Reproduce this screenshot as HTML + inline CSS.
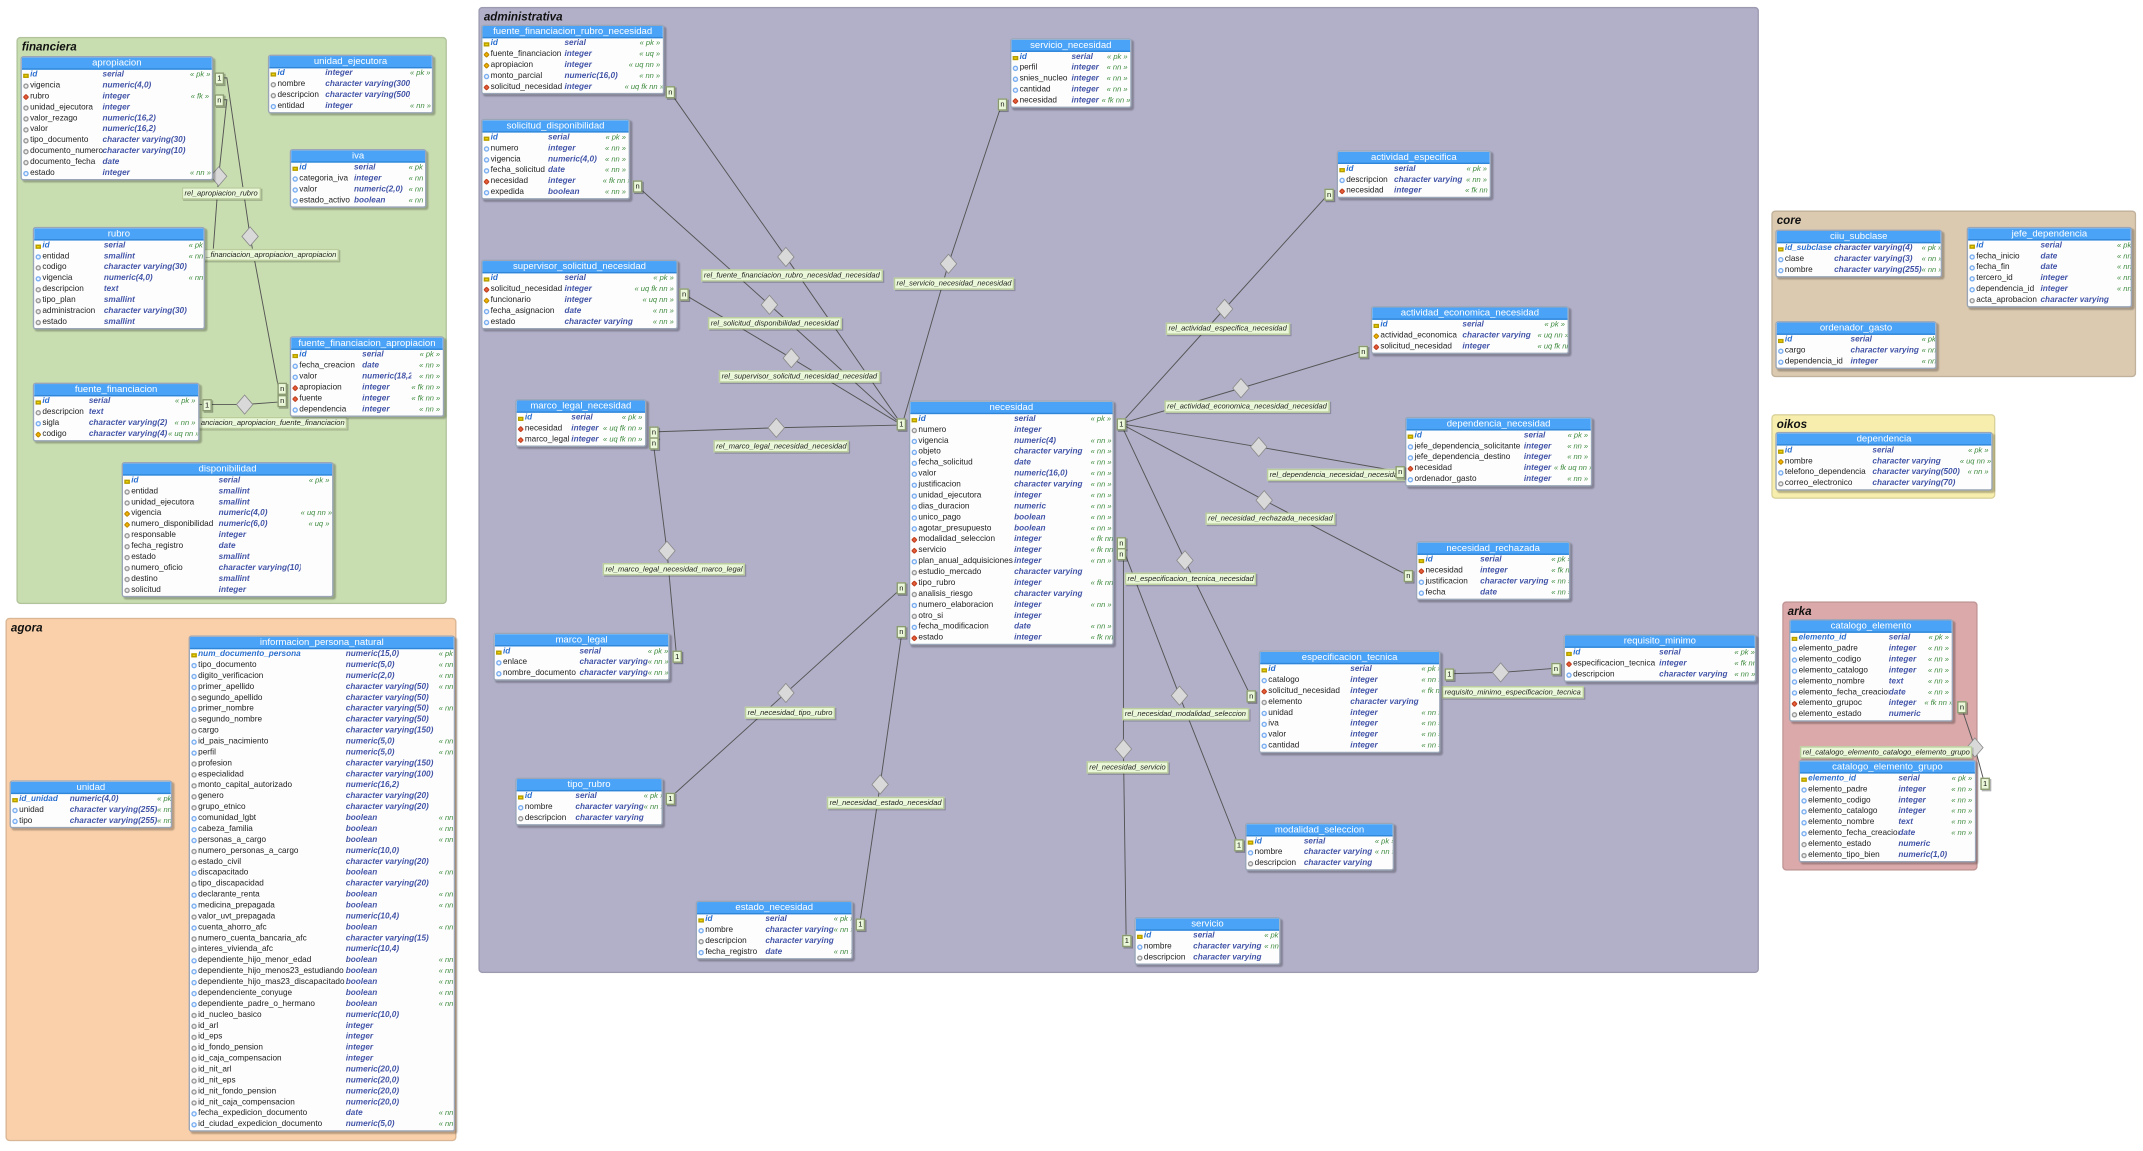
<!DOCTYPE html>
<html><head><meta charset="utf-8"><style>
*{margin:0;padding:0;box-sizing:border-box}
html,body{width:2143px;height:1151px;overflow:hidden;background:#fff}
#w{position:absolute;left:0;top:0;width:1568px;height:842px;transform:scale(1.36671);transform-origin:0 0;font-family:"Liberation Sans",sans-serif}
.pn{position:absolute;border:1px solid rgba(0,0,0,.12);border-radius:3px}
.pn>p{position:absolute;left:3px;top:1px;font-size:8.5px;font-style:italic;font-weight:bold;color:#111}
.t{position:absolute;background:#fdfdfd;border:1px solid #9aa6b8;border-radius:2px;box-shadow:1.5px 1.5px 1px rgba(0,0,0,.25);font-size:6px;--a:40px;--b:55px;overflow:hidden}
.t .h{height:9px;background:#4aa3f7;color:#fff;text-align:center;font-size:7px;line-height:9px;border-bottom:1px solid #2f86d8}
.r{display:flex;height:8px;line-height:8px;white-space:nowrap;padding:0 2px 0 1px}
.r i{flex:none;width:4px;height:4px;border-radius:50%;margin:2px 1px 0 0;border:.6px solid #999;background:#eee}
.r i.n{border-color:#7aaef0;background:#eef5ff}
.r i.p{border-radius:0;background:#f2d400;border-color:#b39b00;height:3px;margin-top:2.5px}
.r i.f{background:#e8603c;border-color:#c04020;border-radius:1px;transform:rotate(45deg) scale(.85)}
.r i.q{background:#f2b600;border-color:#c08a00;transform:rotate(45deg) scale(.85);border-radius:1px}
.r b{font-weight:normal;width:var(--a);overflow:hidden;color:#222;flex:none}
.r u{text-decoration:none;font-weight:bold;font-style:italic;color:#4254a8;width:var(--b);overflow:hidden;flex:none}
.r s{text-decoration:none;flex:1;text-align:right;color:#3d8a3d;font-style:italic;font-size:5.5px}
.r.k b{color:#2a6fd0;font-style:italic;font-weight:bold}
svg{position:absolute;left:0;top:0}
.lb{position:absolute;background:#eaf7d8;border:1px solid #b9cc9c;box-shadow:1px 1px 0 rgba(0,0,0,.2);font-size:5.5px;font-style:italic;color:#222;padding:0 1px;height:9px;line-height:8px;white-space:nowrap}
.c{position:absolute;background:#eaf7d8;border:1px solid #8a9a70;font-size:5.5px;width:7px;height:9px;line-height:8px;text-align:center;color:#111;box-shadow:1px 1px 0 rgba(0,0,0,.3)}
</style></head><body><div id="w">

<div class="pn" style="left:12px;top:27px;width:315px;height:415px;background:#c9deb0"><p>financiera</p></div>
<div class="pn" style="left:4px;top:452px;width:330px;height:383px;background:#f9d0a9"><p>agora</p></div>
<div class="pn" style="left:350px;top:5px;width:937px;height:707px;background:#b2b0c9"><p>administrativa</p></div>
<div class="pn" style="left:1296px;top:154px;width:267px;height:122px;background:#dccab0"><p>core</p></div>
<div class="pn" style="left:1296px;top:303px;width:164px;height:62px;background:#f7eeae"><p>oikos</p></div>
<div class="pn" style="left:1304px;top:440px;width:143px;height:197px;background:#dba9a9"><p>arka</p></div>

<svg width="1568" height="842" viewBox="0 0 1568 842">
<g stroke="#555" stroke-width=".7" fill="none">
<polyline points="160,57 166,57 183,173 204,285 210,285"/>
<polyline points="160,73 166,73 160,129 156,183 150,183"/>
<polyline points="146,296 152,296 179,296 206,294 210,294"/>
<polyline points="490,67 575,188 660,311"/>
<polyline points="466,136 563,223 660,311"/>
<polyline points="500,215 579,262 660,311"/>
<polyline points="478,316 568,313 660,311"/>
<polyline points="733,76 694,193 660,311"/>
<polyline points="478,324 488,403 495,480"/>
<polyline points="660,430 575,507 490,584"/>
<polyline points="660,462 644,574 629,676"/>
<polyline points="820,310 896,226 972,142"/>
<polyline points="820,310 908,284 997,257"/>
<polyline points="820,310 921,327 1024,345"/>
<polyline points="820,310 925,366 1030,421"/>
<polyline points="820,310 867,410 915,509"/>
<polyline points="820,397 863,509 906,618"/>
<polyline points="820,405 822,405 822,548 824,688"/>
<polyline points="1060,493 1098,492 1138,489"/>
<polyline points="1435,517 1445,547 1452,573"/>
</g>
<g fill="#d9d9d9" stroke="#8a8a8a" stroke-width=".6">
<polygon points="183,166 189,173 183,180 177,173"/>
<polygon points="160,122 166,129 160,136 154,129"/>
<polygon points="179,289 185,296 179,303 173,296"/>
<polygon points="575,181 581,188 575,195 569,188"/>
<polygon points="563,216 569,223 563,230 557,223"/>
<polygon points="579,255 585,262 579,269 573,262"/>
<polygon points="568,306 574,313 568,320 562,313"/>
<polygon points="694,186 700,193 694,200 688,193"/>
<polygon points="488,396 494,403 488,410 482,403"/>
<polygon points="575,500 581,507 575,514 569,507"/>
<polygon points="644,567 650,574 644,581 638,574"/>
<polygon points="896,219 902,226 896,233 890,226"/>
<polygon points="908,277 914,284 908,291 902,284"/>
<polygon points="921,320 927,327 921,334 915,327"/>
<polygon points="925,359 931,366 925,373 919,366"/>
<polygon points="867,403 873,410 867,417 861,410"/>
<polygon points="863,502 869,509 863,516 857,509"/>
<polygon points="822,541 828,548 822,555 816,548"/>
<polygon points="1098,485 1104,492 1098,499 1092,492"/>
<polygon points="1445,540 1451,547 1445,554 1439,547"/>
</g>
</svg>

<div class="lb" style="left:133px;top:137px">rel_apropiacion_rubro</div>
<div class="lb" style="left:149px;top:182px">_financiacion_apropiacion_apropiacion</div>
<div class="lb" style="left:145px;top:305px">anciacion_apropiacion_fuente_financiacion</div>
<div class="lb" style="left:513px;top:197px">rel_fuente_financiacion_rubro_necesidad_necesidad</div>
<div class="lb" style="left:518px;top:232px">rel_solicitud_disponibilidad_necesidad</div>
<div class="lb" style="left:526px;top:271px">rel_supervisor_solicitud_necesidad_necesidad</div>
<div class="lb" style="left:522px;top:322px">rel_marco_legal_necesidad_necesidad</div>
<div class="lb" style="left:654px;top:203px">rel_servicio_necesidad_necesidad</div>
<div class="lb" style="left:441px;top:412px">rel_marco_legal_necesidad_marco_legal</div>
<div class="lb" style="left:545px;top:517px">rel_necesidad_tipo_rubro</div>
<div class="lb" style="left:605px;top:583px">rel_necesidad_estado_necesidad</div>
<div class="lb" style="left:853px;top:236px">rel_actividad_especifica_necesidad</div>
<div class="lb" style="left:852px;top:293px">rel_actividad_economica_necesidad_necesidad</div>
<div class="lb" style="left:927px;top:343px">rel_dependencia_necesidad_necesidad</div>
<div class="lb" style="left:882px;top:375px">rel_necesidad_rechazada_necesidad</div>
<div class="lb" style="left:823px;top:419px">rel_especificacion_tecnica_necesidad</div>
<div class="lb" style="left:821px;top:518px">rel_necesidad_modalidad_seleccion</div>
<div class="lb" style="left:795px;top:557px">rel_necesidad_servicio</div>
<div class="lb" style="left:1055px;top:502px">requisito_minimo_especificacion_tecnica</div>
<div class="lb" style="left:1317px;top:546px">rel_catalogo_elemento_catalogo_elemento_grupo</div>

<div class="t" style="left:15px;top:41px;width:141px;--a:53px;--b:64px"><div class="h">apropiacion</div>
<div class="r k"><i class="p"></i><b>id</b><u>serial</u><s>« pk »</s></div>
<div class="r"><i></i><b>vigencia</b><u>numeric(4,0)</u><s></s></div>
<div class="r"><i class="f"></i><b>rubro</b><u>integer</u><s>« fk »</s></div>
<div class="r"><i></i><b>unidad_ejecutora</b><u>integer</u><s></s></div>
<div class="r"><i></i><b>valor_rezago</b><u>numeric(16,2)</u><s></s></div>
<div class="r"><i></i><b>valor</b><u>numeric(16,2)</u><s></s></div>
<div class="r"><i></i><b>tipo_documento</b><u>character varying(30)</u><s></s></div>
<div class="r"><i></i><b>documento_numero</b><u>character varying(10)</u><s></s></div>
<div class="r"><i></i><b>documento_fecha</b><u>date</u><s></s></div>
<div class="r"><i class="n"></i><b>estado</b><u>integer</u><s>« nn »</s></div></div>

<div class="t" style="left:196px;top:40px;width:121px;--a:35px;--b:62px"><div class="h">unidad_ejecutora</div>
<div class="r k"><i class="p"></i><b>id</b><u>integer</u><s>« pk »</s></div>
<div class="r"><i></i><b>nombre</b><u>character varying(300)</u><s></s></div>
<div class="r"><i></i><b>descripcion</b><u>character varying(500)</u><s></s></div>
<div class="r"><i class="n"></i><b>entidad</b><u>integer</u><s>« nn »</s></div></div>

<div class="t" style="left:212px;top:109px;width:100px;--a:40px;--b:40px"><div class="h">iva</div>
<div class="r k"><i class="p"></i><b>id</b><u>serial</u><s>« pk »</s></div>
<div class="r"><i class="n"></i><b>categoria_iva</b><u>integer</u><s>« nn »</s></div>
<div class="r"><i class="n"></i><b>valor</b><u>numeric(2,0)</u><s>« nn »</s></div>
<div class="r"><i class="n"></i><b>estado_activo</b><u>boolean</u><s>« nn »</s></div></div>

<div class="t" style="left:24px;top:166px;width:126px;--a:45px;--b:62px"><div class="h">rubro</div>
<div class="r k"><i class="p"></i><b>id</b><u>serial</u><s>« pk »</s></div>
<div class="r"><i class="n"></i><b>entidad</b><u>smallint</u><s>« nn »</s></div>
<div class="r"><i></i><b>codigo</b><u>character varying(30)</u><s></s></div>
<div class="r"><i class="n"></i><b>vigencia</b><u>numeric(4,0)</u><s>« nn »</s></div>
<div class="r"><i></i><b>descripcion</b><u>text</u><s></s></div>
<div class="r"><i></i><b>tipo_plan</b><u>smallint</u><s></s></div>
<div class="r"><i></i><b>administracion</b><u>character varying(30)</u><s></s></div>
<div class="r"><i></i><b>estado</b><u>smallint</u><s></s></div></div>

<div class="t" style="left:212px;top:246px;width:113px;--a:46px;--b:36px"><div class="h">fuente_financiacion_apropiacion</div>
<div class="r k"><i class="p"></i><b>id</b><u>serial</u><s>« pk »</s></div>
<div class="r"><i class="n"></i><b>fecha_creacion</b><u>date</u><s>« nn »</s></div>
<div class="r"><i class="n"></i><b>valor</b><u>numeric(18,2)</u><s>« nn »</s></div>
<div class="r"><i class="f"></i><b>apropiacion</b><u>integer</u><s>« fk nn »</s></div>
<div class="r"><i class="f"></i><b>fuente</b><u>integer</u><s>« fk nn »</s></div>
<div class="r"><i class="n"></i><b>dependencia</b><u>integer</u><s>« nn »</s></div></div>

<div class="t" style="left:24px;top:280px;width:122px;--a:34px;--b:58px"><div class="h">fuente_financiacion</div>
<div class="r k"><i class="p"></i><b>id</b><u>serial</u><s>« pk »</s></div>
<div class="r"><i></i><b>descripcion</b><u>text</u><s></s></div>
<div class="r"><i class="n"></i><b>sigla</b><u>character varying(2)</u><s>« nn »</s></div>
<div class="r"><i class="q"></i><b>codigo</b><u>character varying(4)</u><s>« uq nn »</s></div></div>

<div class="t" style="left:89px;top:338px;width:155px;--a:64px;--b:60px"><div class="h">disponibilidad</div>
<div class="r k"><i class="p"></i><b>id</b><u>serial</u><s>« pk »</s></div>
<div class="r"><i></i><b>entidad</b><u>smallint</u><s></s></div>
<div class="r"><i></i><b>unidad_ejecutora</b><u>smallint</u><s></s></div>
<div class="r"><i class="q"></i><b>vigencia</b><u>numeric(4,0)</u><s>« uq nn »</s></div>
<div class="r"><i class="q"></i><b>numero_disponibilidad</b><u>numeric(6,0)</u><s>« uq »</s></div>
<div class="r"><i></i><b>responsable</b><u>integer</u><s></s></div>
<div class="r"><i></i><b>fecha_registro</b><u>date</u><s></s></div>
<div class="r"><i></i><b>estado</b><u>smallint</u><s></s></div>
<div class="r"><i></i><b>numero_oficio</b><u>character varying(10)</u><s></s></div>
<div class="r"><i></i><b>destino</b><u>smallint</u><s></s></div>
<div class="r"><i></i><b>solicitud</b><u>integer</u><s></s></div></div>

<div class="t" style="left:7px;top:571px;width:119px;--a:37px;--b:64px"><div class="h">unidad</div>
<div class="r k"><i class="p"></i><b>id_unidad</b><u>numeric(4,0)</u><s>« pk »</s></div>
<div class="r"><i class="n"></i><b>unidad</b><u>character varying(255)</u><s>« nn »</s></div>
<div class="r"><i class="n"></i><b>tipo</b><u>character varying(255)</u><s>« nn »</s></div></div>

<div class="t" style="left:138px;top:465px;width:195px;--a:108px;--b:68px"><div class="h">informacion_persona_natural</div>
<div class="r k"><i class="p"></i><b>num_documento_persona</b><u>numeric(15,0)</u><s>« pk »</s></div>
<div class="r"><i class="n"></i><b>tipo_documento</b><u>numeric(5,0)</u><s>« nn »</s></div>
<div class="r"><i class="n"></i><b>digito_verificacion</b><u>numeric(2,0)</u><s>« nn »</s></div>
<div class="r"><i class="n"></i><b>primer_apellido</b><u>character varying(50)</u><s>« nn »</s></div>
<div class="r"><i></i><b>segundo_apellido</b><u>character varying(50)</u><s></s></div>
<div class="r"><i class="n"></i><b>primer_nombre</b><u>character varying(50)</u><s>« nn »</s></div>
<div class="r"><i></i><b>segundo_nombre</b><u>character varying(50)</u><s></s></div>
<div class="r"><i></i><b>cargo</b><u>character varying(150)</u><s></s></div>
<div class="r"><i class="n"></i><b>id_pais_nacimiento</b><u>numeric(5,0)</u><s>« nn »</s></div>
<div class="r"><i class="n"></i><b>perfil</b><u>numeric(5,0)</u><s>« nn »</s></div>
<div class="r"><i></i><b>profesion</b><u>character varying(150)</u><s></s></div>
<div class="r"><i></i><b>especialidad</b><u>character varying(100)</u><s></s></div>
<div class="r"><i></i><b>monto_capital_autorizado</b><u>numeric(16,2)</u><s></s></div>
<div class="r"><i></i><b>genero</b><u>character varying(20)</u><s></s></div>
<div class="r"><i></i><b>grupo_etnico</b><u>character varying(20)</u><s></s></div>
<div class="r"><i class="n"></i><b>comunidad_lgbt</b><u>boolean</u><s>« nn »</s></div>
<div class="r"><i class="n"></i><b>cabeza_familia</b><u>boolean</u><s>« nn »</s></div>
<div class="r"><i class="n"></i><b>personas_a_cargo</b><u>boolean</u><s>« nn »</s></div>
<div class="r"><i></i><b>numero_personas_a_cargo</b><u>numeric(10,0)</u><s></s></div>
<div class="r"><i></i><b>estado_civil</b><u>character varying(20)</u><s></s></div>
<div class="r"><i class="n"></i><b>discapacitado</b><u>boolean</u><s>« nn »</s></div>
<div class="r"><i></i><b>tipo_discapacidad</b><u>character varying(20)</u><s></s></div>
<div class="r"><i class="n"></i><b>declarante_renta</b><u>boolean</u><s>« nn »</s></div>
<div class="r"><i class="n"></i><b>medicina_prepagada</b><u>boolean</u><s>« nn »</s></div>
<div class="r"><i></i><b>valor_uvt_prepagada</b><u>numeric(10,4)</u><s></s></div>
<div class="r"><i class="n"></i><b>cuenta_ahorro_afc</b><u>boolean</u><s>« nn »</s></div>
<div class="r"><i></i><b>numero_cuenta_bancaria_afc</b><u>character varying(15)</u><s></s></div>
<div class="r"><i></i><b>interes_vivienda_afc</b><u>numeric(10,4)</u><s></s></div>
<div class="r"><i class="n"></i><b>dependiente_hijo_menor_edad</b><u>boolean</u><s>« nn »</s></div>
<div class="r"><i class="n"></i><b>dependiente_hijo_menos23_estudiando</b><u>boolean</u><s>« nn »</s></div>
<div class="r"><i class="n"></i><b>dependiente_hijo_mas23_discapacitado</b><u>boolean</u><s>« nn »</s></div>
<div class="r"><i class="n"></i><b>dependenciente_conyuge</b><u>boolean</u><s>« nn »</s></div>
<div class="r"><i class="n"></i><b>dependiente_padre_o_hermano</b><u>boolean</u><s>« nn »</s></div>
<div class="r"><i></i><b>id_nucleo_basico</b><u>numeric(10,0)</u><s></s></div>
<div class="r"><i></i><b>id_arl</b><u>integer</u><s></s></div>
<div class="r"><i></i><b>id_eps</b><u>integer</u><s></s></div>
<div class="r"><i></i><b>id_fondo_pension</b><u>integer</u><s></s></div>
<div class="r"><i></i><b>id_caja_compensacion</b><u>integer</u><s></s></div>
<div class="r"><i></i><b>id_nit_arl</b><u>numeric(20,0)</u><s></s></div>
<div class="r"><i></i><b>id_nit_eps</b><u>numeric(20,0)</u><s></s></div>
<div class="r"><i></i><b>id_nit_fondo_pension</b><u>numeric(20,0)</u><s></s></div>
<div class="r"><i></i><b>id_nit_caja_compensacion</b><u>numeric(20,0)</u><s></s></div>
<div class="r"><i class="n"></i><b>fecha_expedicion_documento</b><u>date</u><s>« nn »</s></div>
<div class="r"><i class="n"></i><b>id_ciudad_expedicion_documento</b><u>numeric(5,0)</u><s>« nn »</s></div></div>

<div class="t" style="left:352px;top:18px;width:134px;--a:54px;--b:44px"><div class="h">fuente_financiacion_rubro_necesidad</div>
<div class="r k"><i class="p"></i><b>id</b><u>serial</u><s>« pk »</s></div>
<div class="r"><i class="q"></i><b>fuente_financiacion</b><u>integer</u><s>« uq »</s></div>
<div class="r"><i class="q"></i><b>apropiacion</b><u>integer</u><s>« uq nn »</s></div>
<div class="r"><i class="n"></i><b>monto_parcial</b><u>numeric(16,0)</u><s>« nn »</s></div>
<div class="r"><i class="f"></i><b>solicitud_necesidad</b><u>integer</u><s>« uq fk nn »</s></div></div>

<div class="t" style="left:352px;top:87px;width:109px;--a:42px;--b:40px"><div class="h">solicitud_disponibilidad</div>
<div class="r k"><i class="p"></i><b>id</b><u>serial</u><s>« pk »</s></div>
<div class="r"><i class="n"></i><b>numero</b><u>integer</u><s>« nn »</s></div>
<div class="r"><i class="n"></i><b>vigencia</b><u>numeric(4,0)</u><s>« nn »</s></div>
<div class="r"><i class="n"></i><b>fecha_solicitud</b><u>date</u><s>« nn »</s></div>
<div class="r"><i class="f"></i><b>necesidad</b><u>integer</u><s>« fk nn »</s></div>
<div class="r"><i class="n"></i><b>expedida</b><u>boolean</u><s>« nn »</s></div></div>

<div class="t" style="left:352px;top:190px;width:144px;--a:54px;--b:50px"><div class="h">supervisor_solicitud_necesidad</div>
<div class="r k"><i class="p"></i><b>id</b><u>serial</u><s>« pk »</s></div>
<div class="r"><i class="f"></i><b>solicitud_necesidad</b><u>integer</u><s>« uq fk nn »</s></div>
<div class="r"><i class="q"></i><b>funcionario</b><u>integer</u><s>« uq nn »</s></div>
<div class="r"><i class="n"></i><b>fecha_asignacion</b><u>date</u><s>« nn »</s></div>
<div class="r"><i class="n"></i><b>estado</b><u>character varying</u><s>« nn »</s></div></div>

<div class="t" style="left:377px;top:292px;width:96px;--a:34px;--b:22px"><div class="h">marco_legal_necesidad</div>
<div class="r k"><i class="p"></i><b>id</b><u>serial</u><s>« pk »</s></div>
<div class="r"><i class="f"></i><b>necesidad</b><u>integer</u><s>« uq fk nn »</s></div>
<div class="r"><i class="f"></i><b>marco_legal</b><u>integer</u><s>« uq fk nn »</s></div></div>

<div class="t" style="left:361px;top:463px;width:129px;--a:56px;--b:50px"><div class="h">marco_legal</div>
<div class="r k"><i class="p"></i><b>id</b><u>serial</u><s>« pk »</s></div>
<div class="r"><i class="n"></i><b>enlace</b><u>character varying</u><s>« nn »</s></div>
<div class="r"><i class="n"></i><b>nombre_documento</b><u>character varying</u><s>« nn »</s></div></div>

<div class="t" style="left:377px;top:569px;width:108px;--a:37px;--b:50px"><div class="h">tipo_rubro</div>
<div class="r k"><i class="p"></i><b>id</b><u>serial</u><s>« pk »</s></div>
<div class="r"><i class="n"></i><b>nombre</b><u>character varying</u><s>« nn »</s></div>
<div class="r"><i></i><b>descripcion</b><u>character varying</u><s></s></div></div>

<div class="t" style="left:509px;top:659px;width:115px;--a:44px;--b:50px"><div class="h">estado_necesidad</div>
<div class="r k"><i class="p"></i><b>id</b><u>serial</u><s>« pk »</s></div>
<div class="r"><i class="n"></i><b>nombre</b><u>character varying</u><s>« nn »</s></div>
<div class="r"><i></i><b>descripcion</b><u>character varying</u><s></s></div>
<div class="r"><i class="n"></i><b>fecha_registro</b><u>date</u><s>« nn »</s></div></div>

<div class="t" style="left:665px;top:293px;width:150px;--a:70px;--b:56px"><div class="h">necesidad</div>
<div class="r k"><i class="p"></i><b>id</b><u>serial</u><s>« pk »</s></div>
<div class="r"><i></i><b>numero</b><u>integer</u><s></s></div>
<div class="r"><i class="n"></i><b>vigencia</b><u>numeric(4)</u><s>« nn »</s></div>
<div class="r"><i class="n"></i><b>objeto</b><u>character varying</u><s>« nn »</s></div>
<div class="r"><i class="n"></i><b>fecha_solicitud</b><u>date</u><s>« nn »</s></div>
<div class="r"><i class="n"></i><b>valor</b><u>numeric(16,0)</u><s>« nn »</s></div>
<div class="r"><i class="n"></i><b>justificacion</b><u>character varying</u><s>« nn »</s></div>
<div class="r"><i class="n"></i><b>unidad_ejecutora</b><u>integer</u><s>« nn »</s></div>
<div class="r"><i class="n"></i><b>dias_duracion</b><u>numeric</u><s>« nn »</s></div>
<div class="r"><i class="n"></i><b>unico_pago</b><u>boolean</u><s>« nn »</s></div>
<div class="r"><i class="n"></i><b>agotar_presupuesto</b><u>boolean</u><s>« nn »</s></div>
<div class="r"><i class="f"></i><b>modalidad_seleccion</b><u>integer</u><s>« fk nn »</s></div>
<div class="r"><i class="f"></i><b>servicio</b><u>integer</u><s>« fk nn »</s></div>
<div class="r"><i class="n"></i><b>plan_anual_adquisiciones</b><u>integer</u><s>« nn »</s></div>
<div class="r"><i></i><b>estudio_mercado</b><u>character varying</u><s></s></div>
<div class="r"><i class="f"></i><b>tipo_rubro</b><u>integer</u><s>« fk nn »</s></div>
<div class="r"><i></i><b>analisis_riesgo</b><u>character varying</u><s></s></div>
<div class="r"><i class="n"></i><b>numero_elaboracion</b><u>integer</u><s>« nn »</s></div>
<div class="r"><i></i><b>otro_si</b><u>integer</u><s></s></div>
<div class="r"><i class="n"></i><b>fecha_modificacion</b><u>date</u><s>« nn »</s></div>
<div class="r"><i class="f"></i><b>estado</b><u>integer</u><s>« fk nn »</s></div></div>

<div class="t" style="left:739px;top:28px;width:89px;--a:38px;--b:22px"><div class="h">servicio_necesidad</div>
<div class="r k"><i class="p"></i><b>id</b><u>serial</u><s>« pk »</s></div>
<div class="r"><i class="n"></i><b>perfil</b><u>integer</u><s>« nn »</s></div>
<div class="r"><i class="n"></i><b>snies_nucleo</b><u>integer</u><s>« nn »</s></div>
<div class="r"><i class="n"></i><b>cantidad</b><u>integer</u><s>« nn »</s></div>
<div class="r"><i class="f"></i><b>necesidad</b><u>integer</u><s>« fk nn »</s></div></div>

<div class="t" style="left:978px;top:110px;width:113px;--a:35px;--b:52px"><div class="h">actividad_especifica</div>
<div class="r k"><i class="p"></i><b>id</b><u>serial</u><s>« pk »</s></div>
<div class="r"><i class="n"></i><b>descripcion</b><u>character varying</u><s>« nn »</s></div>
<div class="r"><i class="f"></i><b>necesidad</b><u>integer</u><s>« fk nn »</s></div></div>

<div class="t" style="left:1003px;top:224px;width:145px;--a:60px;--b:55px"><div class="h">actividad_economica_necesidad</div>
<div class="r k"><i class="p"></i><b>id</b><u>serial</u><s>« pk »</s></div>
<div class="r"><i class="q"></i><b>actividad_economica</b><u>character varying</u><s>« uq nn »</s></div>
<div class="r"><i class="f"></i><b>solicitud_necesidad</b><u>integer</u><s>« uq fk nn »</s></div></div>

<div class="t" style="left:1028px;top:305px;width:137px;--a:80px;--b:22px"><div class="h">dependencia_necesidad</div>
<div class="r k"><i class="p"></i><b>id</b><u>serial</u><s>« pk »</s></div>
<div class="r"><i class="n"></i><b>jefe_dependencia_solicitante</b><u>integer</u><s>« nn »</s></div>
<div class="r"><i class="n"></i><b>jefe_dependencia_destino</b><u>integer</u><s>« nn »</s></div>
<div class="r"><i class="f"></i><b>necesidad</b><u>integer</u><s>« fk uq nn »</s></div>
<div class="r"><i class="n"></i><b>ordenador_gasto</b><u>integer</u><s>« nn »</s></div></div>

<div class="t" style="left:1036px;top:396px;width:113px;--a:40px;--b:52px"><div class="h">necesidad_rechazada</div>
<div class="r k"><i class="p"></i><b>id</b><u>serial</u><s>« pk »</s></div>
<div class="r"><i class="f"></i><b>necesidad</b><u>integer</u><s>« fk nn »</s></div>
<div class="r"><i class="n"></i><b>justificacion</b><u>character varying</u><s>« nn »</s></div>
<div class="r"><i class="n"></i><b>fecha</b><u>date</u><s>« nn »</s></div></div>

<div class="t" style="left:921px;top:476px;width:133px;--a:60px;--b:52px"><div class="h">especificacion_tecnica</div>
<div class="r k"><i class="p"></i><b>id</b><u>serial</u><s>« pk »</s></div>
<div class="r"><i class="n"></i><b>catalogo</b><u>integer</u><s>« nn »</s></div>
<div class="r"><i class="f"></i><b>solicitud_necesidad</b><u>integer</u><s>« fk nn »</s></div>
<div class="r"><i></i><b>elemento</b><u>character varying</u><s></s></div>
<div class="r"><i class="n"></i><b>unidad</b><u>integer</u><s>« nn »</s></div>
<div class="r"><i class="n"></i><b>iva</b><u>integer</u><s>« nn »</s></div>
<div class="r"><i class="n"></i><b>valor</b><u>integer</u><s>« nn »</s></div>
<div class="r"><i class="n"></i><b>cantidad</b><u>integer</u><s>« nn »</s></div></div>

<div class="t" style="left:1144px;top:464px;width:141px;--a:63px;--b:55px"><div class="h">requisito_minimo</div>
<div class="r k"><i class="p"></i><b>id</b><u>serial</u><s>« pk »</s></div>
<div class="r"><i class="f"></i><b>especificacion_tecnica</b><u>integer</u><s>« fk nn »</s></div>
<div class="r"><i class="n"></i><b>descripcion</b><u>character varying</u><s>« nn »</s></div></div>

<div class="t" style="left:911px;top:602px;width:109px;--a:36px;--b:52px"><div class="h">modalidad_seleccion</div>
<div class="r k"><i class="p"></i><b>id</b><u>serial</u><s>« pk »</s></div>
<div class="r"><i class="n"></i><b>nombre</b><u>character varying</u><s>« nn »</s></div>
<div class="r"><i></i><b>descripcion</b><u>character varying</u><s></s></div></div>

<div class="t" style="left:830px;top:671px;width:107px;--a:36px;--b:52px"><div class="h">servicio</div>
<div class="r k"><i class="p"></i><b>id</b><u>serial</u><s>« pk »</s></div>
<div class="r"><i class="n"></i><b>nombre</b><u>character varying</u><s>« nn »</s></div>
<div class="r"><i></i><b>descripcion</b><u>character varying</u><s></s></div></div>

<div class="t" style="left:1299px;top:168px;width:122px;--a:36px;--b:64px"><div class="h">ciiu_subclase</div>
<div class="r k"><i class="p"></i><b>id_subclase</b><u>character varying(4)</u><s>« pk »</s></div>
<div class="r"><i class="n"></i><b>clase</b><u>character varying(3)</u><s>« nn »</s></div>
<div class="r"><i class="n"></i><b>nombre</b><u>character varying(255)</u><s>« nn »</s></div></div>

<div class="t" style="left:1439px;top:166px;width:121px;--a:47px;--b:56px"><div class="h">jefe_dependencia</div>
<div class="r k"><i class="p"></i><b>id</b><u>serial</u><s>« pk »</s></div>
<div class="r"><i class="n"></i><b>fecha_inicio</b><u>date</u><s>« nn »</s></div>
<div class="r"><i class="n"></i><b>fecha_fin</b><u>date</u><s>« nn »</s></div>
<div class="r"><i class="n"></i><b>tercero_id</b><u>integer</u><s>« nn »</s></div>
<div class="r"><i class="n"></i><b>dependencia_id</b><u>integer</u><s>« nn »</s></div>
<div class="r"><i></i><b>acta_aprobacion</b><u>character varying</u><s></s></div></div>

<div class="t" style="left:1299px;top:235px;width:118px;--a:48px;--b:52px"><div class="h">ordenador_gasto</div>
<div class="r k"><i class="p"></i><b>id</b><u>serial</u><s>« pk »</s></div>
<div class="r"><i class="n"></i><b>cargo</b><u>character varying</u><s>« nn »</s></div>
<div class="r"><i class="n"></i><b>dependencia_id</b><u>integer</u><s>« nn »</s></div></div>

<div class="t" style="left:1299px;top:316px;width:159px;--a:64px;--b:64px"><div class="h">dependencia</div>
<div class="r k"><i class="p"></i><b>id</b><u>serial</u><s>« pk »</s></div>
<div class="r"><i class="q"></i><b>nombre</b><u>character varying</u><s>« uq nn »</s></div>
<div class="r"><i class="n"></i><b>telefono_dependencia</b><u>character varying(500)</u><s>« nn »</s></div>
<div class="r"><i></i><b>correo_electronico</b><u>character varying(70)</u><s></s></div></div>

<div class="t" style="left:1309px;top:453px;width:120px;--a:66px;--b:26px"><div class="h">catalogo_elemento</div>
<div class="r k"><i class="p"></i><b>elemento_id</b><u>serial</u><s>« pk »</s></div>
<div class="r"><i class="n"></i><b>elemento_padre</b><u>integer</u><s>« nn »</s></div>
<div class="r"><i class="n"></i><b>elemento_codigo</b><u>integer</u><s>« nn »</s></div>
<div class="r"><i class="n"></i><b>elemento_catalogo</b><u>integer</u><s>« nn »</s></div>
<div class="r"><i class="n"></i><b>elemento_nombre</b><u>text</u><s>« nn »</s></div>
<div class="r"><i class="n"></i><b>elemento_fecha_creacion</b><u>date</u><s>« nn »</s></div>
<div class="r"><i class="f"></i><b>elemento_grupoc</b><u>integer</u><s>« fk nn »</s></div>
<div class="r"><i></i><b>elemento_estado</b><u>numeric</u><s></s></div></div>

<div class="t" style="left:1316px;top:556px;width:130px;--a:66px;--b:38px"><div class="h">catalogo_elemento_grupo</div>
<div class="r k"><i class="p"></i><b>elemento_id</b><u>serial</u><s>« pk »</s></div>
<div class="r"><i class="n"></i><b>elemento_padre</b><u>integer</u><s>« nn »</s></div>
<div class="r"><i class="n"></i><b>elemento_codigo</b><u>integer</u><s>« nn »</s></div>
<div class="r"><i class="n"></i><b>elemento_catalogo</b><u>integer</u><s>« nn »</s></div>
<div class="r"><i class="n"></i><b>elemento_nombre</b><u>text</u><s>« nn »</s></div>
<div class="r"><i class="n"></i><b>elemento_fecha_creacion</b><u>date</u><s>« nn »</s></div>
<div class="r"><i></i><b>elemento_estado</b><u>numeric</u><s></s></div>
<div class="r"><i></i><b>elemento_tipo_bien</b><u>numeric(1,0)</u><s></s></div></div>

<div class="c" style="left:157px;top:53px">1</div>
<div class="c" style="left:157px;top:69px">n</div>
<div class="c" style="left:203px;top:280px">n</div>
<div class="c" style="left:203px;top:289px">n</div>
<div class="c" style="left:148px;top:292px">1</div>
<div class="c" style="left:487px;top:63px">n</div>
<div class="c" style="left:463px;top:132px">n</div>
<div class="c" style="left:497px;top:211px">n</div>
<div class="c" style="left:475px;top:312px">n</div>
<div class="c" style="left:475px;top:320px">n</div>
<div class="c" style="left:492px;top:476px">1</div>
<div class="c" style="left:487px;top:580px">1</div>
<div class="c" style="left:626px;top:672px">1</div>
<div class="c" style="left:730px;top:72px">n</div>
<div class="c" style="left:656px;top:306px">1</div>
<div class="c" style="left:656px;top:426px">n</div>
<div class="c" style="left:656px;top:458px">n</div>
<div class="c" style="left:817px;top:306px">1</div>
<div class="c" style="left:817px;top:393px">n</div>
<div class="c" style="left:817px;top:401px">n</div>
<div class="c" style="left:969px;top:138px">n</div>
<div class="c" style="left:994px;top:253px">n</div>
<div class="c" style="left:1021px;top:341px">n</div>
<div class="c" style="left:1027px;top:417px">n</div>
<div class="c" style="left:912px;top:505px">n</div>
<div class="c" style="left:1057px;top:489px">1</div>
<div class="c" style="left:1135px;top:485px">n</div>
<div class="c" style="left:903px;top:614px">1</div>
<div class="c" style="left:821px;top:684px">1</div>
<div class="c" style="left:1432px;top:513px">n</div>
<div class="c" style="left:1449px;top:569px">1</div>

</div></body></html>
